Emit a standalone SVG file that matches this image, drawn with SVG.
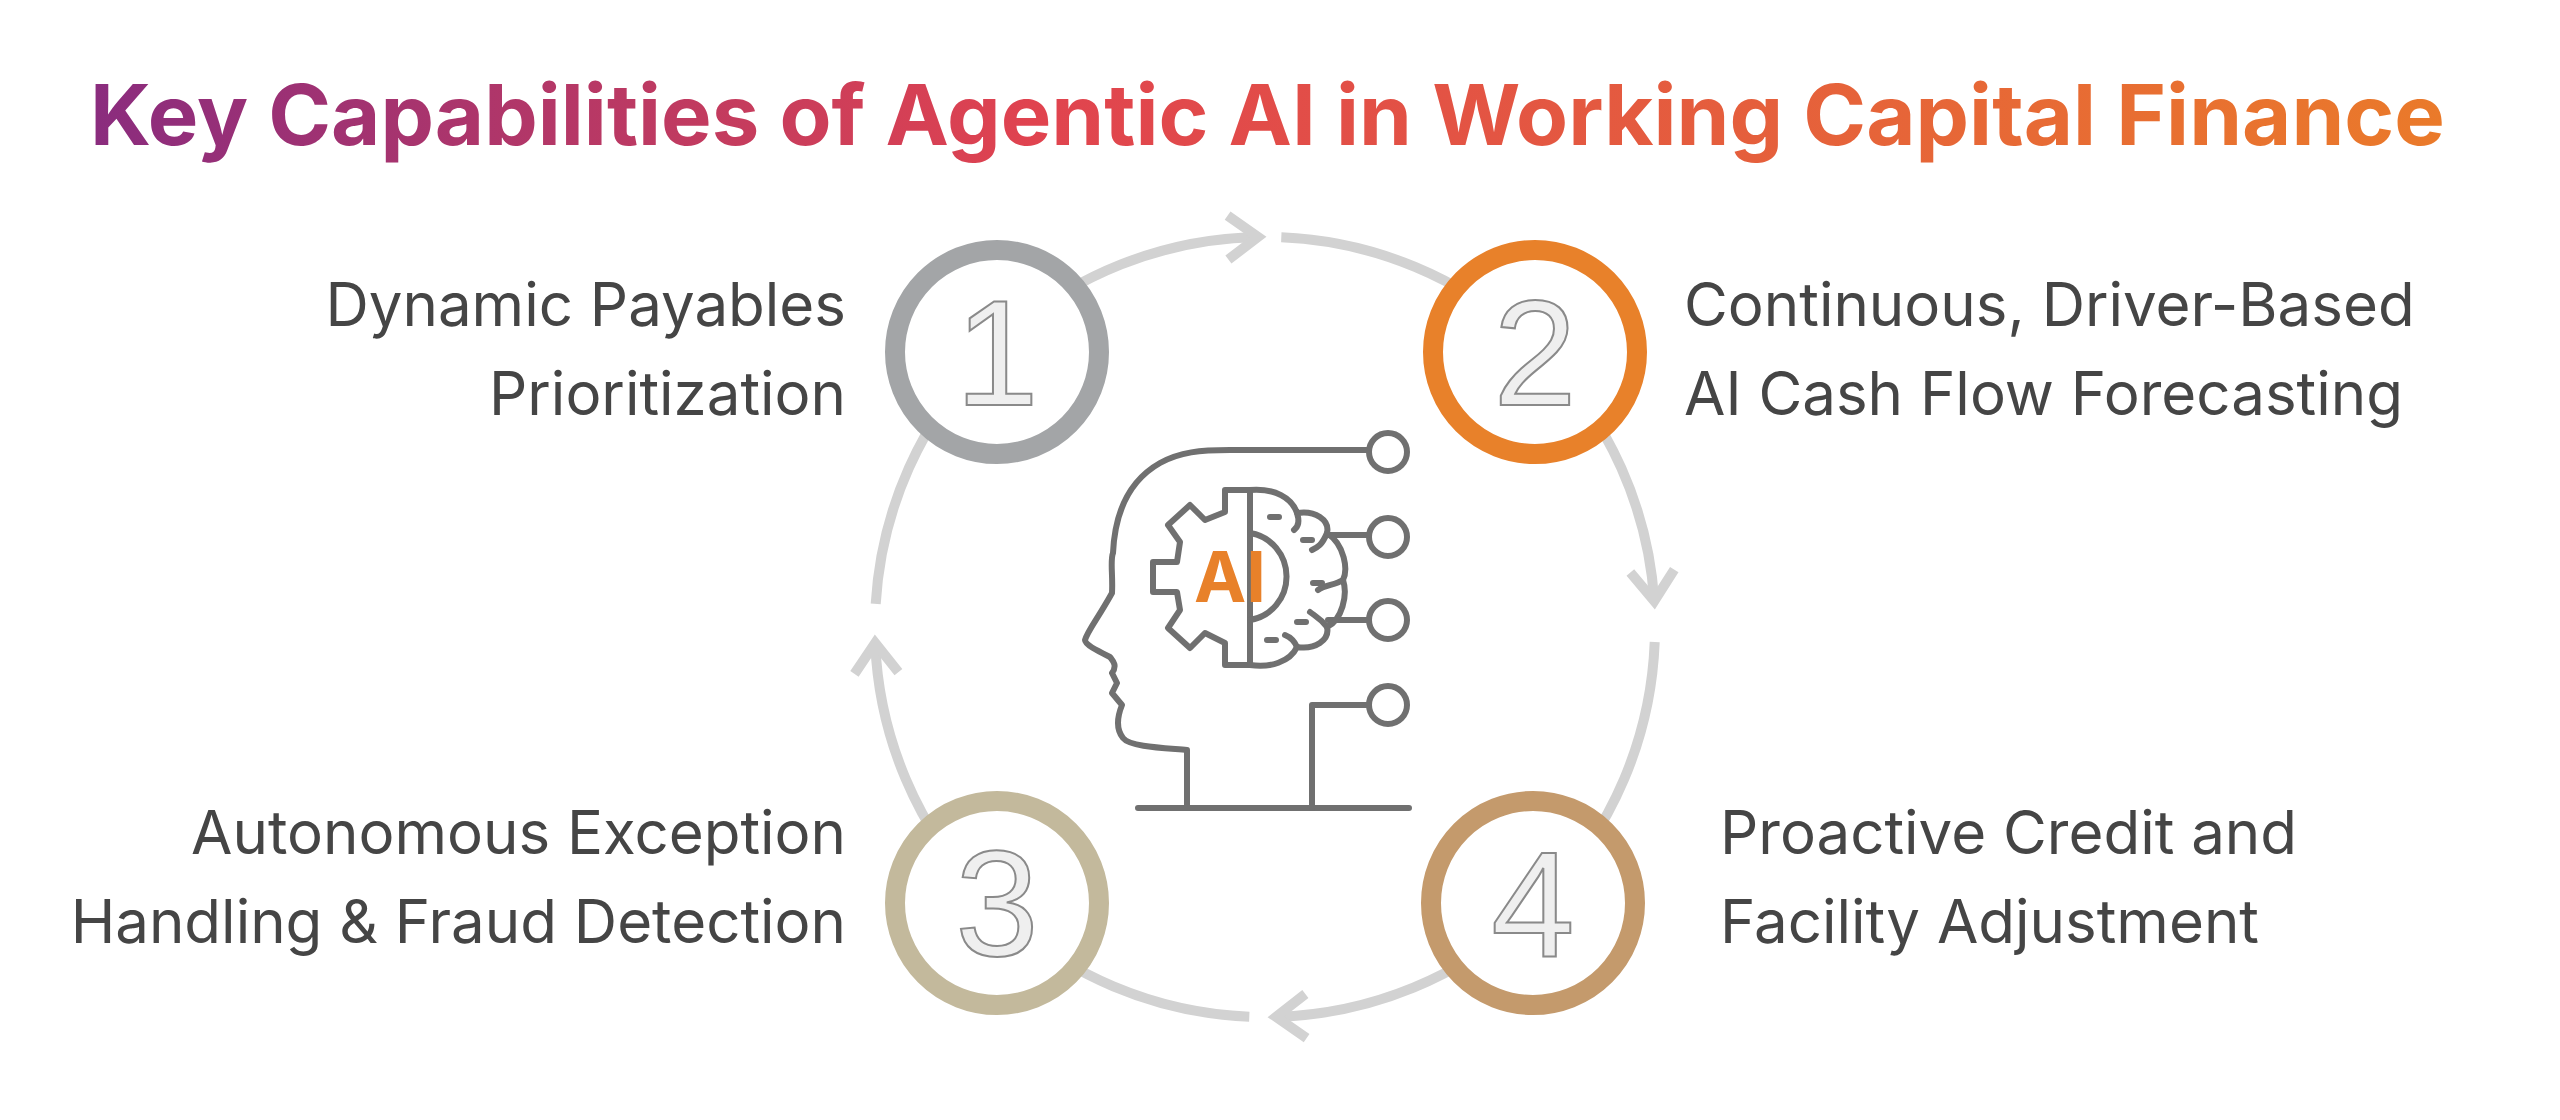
<svg xmlns="http://www.w3.org/2000/svg" width="2560" height="1120" viewBox="0 0 2560 1120">
<style>
.lbl{font-family:Inter,"Open Sans","Liberation Sans",sans-serif;font-size:60px;fill:#454545}
.ring{fill:none;stroke:#d2d2d2;stroke-width:10}
.num{font-family:"Liberation Sans",Arial,sans-serif;font-size:150px;fill:#efefef;stroke:#8a8a8a;stroke-width:2;text-anchor:middle}
.ic{fill:none;stroke:#707070;stroke-width:6;stroke-linecap:round;stroke-linejoin:round}
</style>
<defs>
<linearGradient id="tg" x1="90" y1="0" x2="2445" y2="0" gradientUnits="userSpaceOnUse">
<stop offset="0" stop-color="#8a2c7e"/><stop offset="0.4" stop-color="#e0434f"/><stop offset="1" stop-color="#ea7a2a"/>
</linearGradient>
<marker id="ah" markerUnits="userSpaceOnUse" markerWidth="60" markerHeight="60" viewBox="-40 -30 60 60" refX="0" refY="0" orient="auto">
<path d="M-30,-22 L0,0 L-30,22" fill="none" stroke="#d2d2d2" stroke-width="10"/>
</marker>
</defs>
<rect width="2560" height="1120" fill="#fff"/>
<text x="90" y="145" font-family="Inter,'Open Sans','Liberation Sans',sans-serif" font-weight="700" font-size="84" fill="url(#tg)" textLength="2355" lengthAdjust="spacingAndGlyphs">Key Capabilities of Agentic AI in Working Capital Finance</text>
<g id="connectors">
<path class="ring" d="M875.7,603.9 A390,390 0 0 1 1258,237" marker-end="url(#ah)"/>
<path class="ring" d="M1281.3,237.3 A390,390 0 0 1 1654.3,601" marker-end="url(#ah)"/>
<path class="ring" d="M1654.7,642 A390,390 0 0 1 1276,1016.9" marker-end="url(#ah)"/>
<path class="ring" d="M1249.3,1016.7 A390,390 0 0 1 875.2,643" marker-end="url(#ah)"/>
</g>
<g id="n1"><circle cx="997" cy="352" r="102" fill="#fff" stroke="#a3a5a7" stroke-width="20"/><text class="num" x="997" y="405">1</text>
<text class="lbl" x="846" y="326" text-anchor="end">Dynamic Payables</text><text class="lbl" x="846" y="415" text-anchor="end">Prioritization</text></g>
<g id="n2"><circle cx="1535" cy="352" r="102" fill="#fff" stroke="#e8812a" stroke-width="20"/><text class="num" x="1535" y="405">2</text>
<text class="lbl" x="1684" y="326">Continuous, Driver-Based</text><text class="lbl" x="1684" y="415">AI Cash Flow Forecasting</text></g>
<g id="n3"><circle cx="997" cy="903" r="102" fill="#fff" stroke="#c3b99c" stroke-width="20"/><text class="num" x="997" y="956">3</text>
<text class="lbl" x="846" y="854" text-anchor="end">Autonomous Exception</text><text class="lbl" x="846" y="943" text-anchor="end">Handling &amp; Fraud Detection</text></g>
<g id="n4"><circle cx="1533" cy="903" r="102" fill="#fff" stroke="#c49a6c" stroke-width="20"/><text class="num" x="1533" y="956">4</text>
<text class="lbl" x="1720" y="854">Proactive Credit and</text><text class="lbl" x="1720" y="943">Facility Adjustment</text></g>
<g id="ai-head">
<path class="ic" d="M1138,808 L1409,808 M1187,808 L1187,750 C1165,748 1130,747 1123,738 C1115,728 1118,715 1122,705 L1112,693 L1117,683 L1112,673 C1118,665 1112,660 1110,657 C1100,652 1085,645 1085,640 C1088,630 1097,620 1112,593 C1113,575 1110,560 1113,553 C1115,510 1130,480 1160,463 C1180,452 1200,450 1230,450 L1368,450"/>
<circle class="ic" cx="1388" cy="452" r="19"/>
<circle class="ic" cx="1388" cy="537" r="19"/>
<circle class="ic" cx="1388" cy="620" r="19"/>
<circle class="ic" cx="1388" cy="705" r="19"/>
<path class="ic" d="M1328,535 L1369,535 M1328,620 L1369,620 M1369,705 L1312,705 L1312,808"/>
<path class="ic" d="M1250,490 L1225,490 L1225,512 L1205,520 L1190,505 L1168,525 L1180,542 L1177,562 L1153,562 L1153,592 L1177,592 L1180,610 L1168,628 L1190,648 L1205,633 L1225,643 L1225,665 L1250,665 Z"/>
<path class="ic" d="M1250,533 A43,44 0 0 1 1250,620"/>
<path class="ic" d="M1250,490 C1275,488 1292,498 1297,513 C1315,510 1330,520 1327,533 C1345,545 1348,570 1343,580 C1348,595 1342,620 1327,627 C1330,640 1315,650 1297,647 C1290,662 1270,668 1250,665"/>
<path class="ic" d="M1297,513 C1300,522 1298,527 1294,530 M1327,533 C1322,545 1318,547 1312,550 M1343,580 C1335,585 1325,585 1318,590 M1327,627 C1320,618 1315,616 1310,612 M1297,647 C1294,640 1290,637 1285,635"/>
<path class="ic" d="M1270,517 L1279,517 M1303,540 L1312,540 M1313,583 L1322,583 M1297,622 L1306,622 M1267,640 L1276,640"/>
<text x="1230" y="602" text-anchor="middle" font-family="Inter,'Liberation Sans',sans-serif" font-weight="700" font-size="70" fill="#e8812a">AI</text>
</g>
</svg>
